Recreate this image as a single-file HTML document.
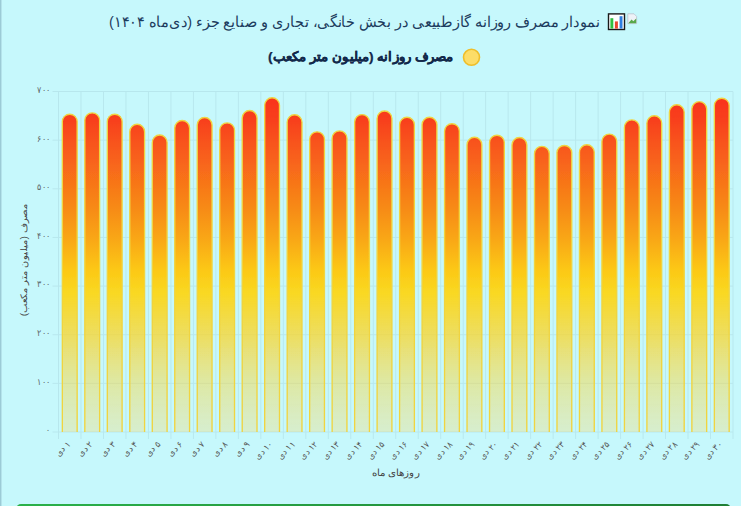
<!DOCTYPE html>
<html lang="fa">
<head>
<meta charset="utf-8">
<title>نمودار مصرف روزانه گازطبیعی</title>
<style>
html,body{margin:0;padding:0;background:#c6f8fc;}
html{overflow:hidden;}
body{width:741px;height:506px;overflow:hidden;background:#c6f8fc;position:relative;font-family:"Liberation Sans",sans-serif;}
.edge{position:absolute;left:0;top:0;width:2px;height:506px;background:linear-gradient(90deg,#9ccbd6 0,#9ccbd6 1px,#b4e3eb 1px,#b4e3eb 2px);}
svg{position:absolute;left:0;top:0;overflow:hidden;}
svg text{font-family:"Liberation Sans",sans-serif;}
</style>
</head>
<body>
<div class="edge"></div>
<svg width="741" height="506" viewBox="0 0 741 506">
<defs>
<linearGradient id="g" gradientUnits="userSpaceOnUse" x1="0" y1="91.5" x2="0" y2="432">
<stop offset="0" stop-color="#f92f1a"/>
<stop offset="0.084" stop-color="#f8401a"/>
<stop offset="0.172" stop-color="#f85a1c"/>
<stop offset="0.348" stop-color="#f78c16"/>
<stop offset="0.436" stop-color="#f9a816"/>
<stop offset="0.524" stop-color="#fcc815"/>
<stop offset="0.59" stop-color="#f9d822"/>
<stop offset="0.733" stop-color="#fbd42b" stop-opacity=".7"/>
<stop offset="0.853" stop-color="#fad63a" stop-opacity=".46"/>
<stop offset="0.97" stop-color="#fcd75a" stop-opacity=".33"/>
<stop offset="1" stop-color="#fcd760" stop-opacity=".3"/>
</linearGradient>
<linearGradient id="gr" x1="0" y1="0" x2="1" y2="0"><stop offset="0" stop-color="#2bb14a"/><stop offset="1" stop-color="#1e7e34"/></linearGradient>
<filter id="soft" x="-2%" y="-2%" width="104%" height="104%"><feGaussianBlur stdDeviation="0.5"/></filter>
</defs>
<!-- title -->
<g id="brokenimg"><path d="M627.8 13.8H634L636.6 16.4V23.6H627.8Z" fill="#eef2f7" stroke="#b4bcc9" stroke-width=".7"/><path d="M628.3 23.2L631.6 19.6 633.3 21.2 636.2 18.4V23.2Z" fill="#58a84a"/></g>
<g id="charticon"><rect x="608.5" y="13.9" width="16" height="15.6" fill="#fff" stroke="#1a1a1a" stroke-width="1.4"/><rect x="610.4" y="18.2" width="2.9" height="10.4" fill="#30c040"/><rect x="614.9" y="21.4" width="3" height="7.2" fill="#e8452f"/><rect x="619.6" y="16.2" width="2.9" height="12.4" fill="#2f7ee0"/></g>
<text x="600" y="27.3" direction="rtl" text-anchor="start" font-size="15" fill="#1d3c5e" textLength="491" lengthAdjust="spacingAndGlyphs">نمودار مصرف روزانه گازطبیعی در بخش خانگی، تجاری و صنایع جزء (دی‌ماه ۱۴۰۴)</text>
<!-- legend -->
<circle cx="471.5" cy="57.3" r="8" fill="#fcdd68" stroke="#efbe2a" stroke-width="1.6"/>
<text x="453.5" y="61" direction="rtl" text-anchor="start" font-size="13.4" font-weight="bold" fill="#12284a" stroke="#12284a" stroke-width=".25" textLength="185.5" lengthAdjust="spacingAndGlyphs">مصرف روزانه (میلیون متر مکعب)</text>
<!-- grid -->
<g stroke="#a3d0d8" stroke-width="1" fill="none" opacity=".4">
<path d="M58.50 91.5V439.0"/>
<path d="M80.98 91.5V439.0"/>
<path d="M103.47 91.5V439.0"/>
<path d="M125.95 91.5V439.0"/>
<path d="M148.43 91.5V439.0"/>
<path d="M170.92 91.5V439.0"/>
<path d="M193.40 91.5V439.0"/>
<path d="M215.88 91.5V439.0"/>
<path d="M238.37 91.5V439.0"/>
<path d="M260.85 91.5V439.0"/>
<path d="M283.33 91.5V439.0"/>
<path d="M305.82 91.5V439.0"/>
<path d="M328.30 91.5V439.0"/>
<path d="M350.78 91.5V439.0"/>
<path d="M373.27 91.5V439.0"/>
<path d="M395.75 91.5V439.0"/>
<path d="M418.23 91.5V439.0"/>
<path d="M440.72 91.5V439.0"/>
<path d="M463.20 91.5V439.0"/>
<path d="M485.68 91.5V439.0"/>
<path d="M508.17 91.5V439.0"/>
<path d="M530.65 91.5V439.0"/>
<path d="M553.13 91.5V439.0"/>
<path d="M575.62 91.5V439.0"/>
<path d="M598.10 91.5V439.0"/>
<path d="M620.58 91.5V439.0"/>
<path d="M643.07 91.5V439.0"/>
<path d="M665.55 91.5V439.0"/>
<path d="M688.03 91.5V439.0"/>
<path d="M710.52 91.5V439.0"/>
<path d="M733.00 91.5V439.0"/>
<path d="M52.5 432.00H733.0"/>
<path d="M52.5 383.36H733.0"/>
<path d="M52.5 334.71H733.0"/>
<path d="M52.5 286.07H733.0"/>
<path d="M52.5 237.43H733.0"/>
<path d="M52.5 188.79H733.0"/>
<path d="M52.5 140.14H733.0"/>
<path d="M52.5 91.50H733.0"/>
</g>
<!-- bars -->
<g fill="url(#g)" stroke="#f0d440" stroke-width="1.35" filter="url(#soft)">
<path d="M62.34 432.0V121.60A7.40 7.40 0 0 1 77.14 121.60V432.0"/>
<path d="M84.82 432.0V120.30A7.40 7.40 0 0 1 99.62 120.30V432.0"/>
<path d="M107.31 432.0V121.60A7.40 7.40 0 0 1 122.11 121.60V432.0"/>
<path d="M129.79 432.0V131.70A7.40 7.40 0 0 1 144.59 131.70V432.0"/>
<path d="M152.28 432.0V142.40A7.40 7.40 0 0 1 167.08 142.40V432.0"/>
<path d="M174.76 432.0V127.90A7.40 7.40 0 0 1 189.56 127.90V432.0"/>
<path d="M197.24 432.0V124.90A7.40 7.40 0 0 1 212.04 124.90V432.0"/>
<path d="M219.72 432.0V130.30A7.40 7.40 0 0 1 234.53 130.30V432.0"/>
<path d="M242.21 432.0V117.90A7.40 7.40 0 0 1 257.01 117.90V432.0"/>
<path d="M264.69 432.0V105.20A7.40 7.40 0 0 1 279.49 105.20V432.0"/>
<path d="M287.18 432.0V122.20A7.40 7.40 0 0 1 301.98 122.20V432.0"/>
<path d="M309.66 432.0V139.20A7.40 7.40 0 0 1 324.46 139.20V432.0"/>
<path d="M332.14 432.0V138.30A7.40 7.40 0 0 1 346.94 138.30V432.0"/>
<path d="M354.63 432.0V122.00A7.40 7.40 0 0 1 369.43 122.00V432.0"/>
<path d="M377.11 432.0V118.40A7.40 7.40 0 0 1 391.91 118.40V432.0"/>
<path d="M399.59 432.0V124.70A7.40 7.40 0 0 1 414.39 124.70V432.0"/>
<path d="M422.08 432.0V124.70A7.40 7.40 0 0 1 436.88 124.70V432.0"/>
<path d="M444.56 432.0V131.10A7.40 7.40 0 0 1 459.36 131.10V432.0"/>
<path d="M467.04 432.0V144.70A7.40 7.40 0 0 1 481.84 144.70V432.0"/>
<path d="M489.53 432.0V142.40A7.40 7.40 0 0 1 504.32 142.40V432.0"/>
<path d="M512.01 432.0V144.90A7.40 7.40 0 0 1 526.81 144.90V432.0"/>
<path d="M534.49 432.0V153.80A7.40 7.40 0 0 1 549.29 153.80V432.0"/>
<path d="M556.98 432.0V152.60A7.40 7.40 0 0 1 571.77 152.60V432.0"/>
<path d="M579.46 432.0V152.20A7.40 7.40 0 0 1 594.26 152.20V432.0"/>
<path d="M601.94 432.0V141.50A7.40 7.40 0 0 1 616.74 141.50V432.0"/>
<path d="M624.43 432.0V127.30A7.40 7.40 0 0 1 639.23 127.30V432.0"/>
<path d="M646.91 432.0V123.20A7.40 7.40 0 0 1 661.71 123.20V432.0"/>
<path d="M669.39 432.0V112.20A7.40 7.40 0 0 1 684.19 112.20V432.0"/>
<path d="M691.88 432.0V108.80A7.40 7.40 0 0 1 706.67 108.80V432.0"/>
<path d="M714.36 432.0V105.60A7.40 7.40 0 0 1 729.16 105.60V432.0"/>
</g>
<!-- y tick labels -->
<g font-size="8.6" fill="#5c6668" text-anchor="end">
<text x="50.3" y="433.40" textLength="4.2" lengthAdjust="spacingAndGlyphs">۰</text>
<text x="50.5" y="384.76" textLength="13.2" lengthAdjust="spacingAndGlyphs">۱۰۰</text>
<text x="50.5" y="336.11" textLength="13.2" lengthAdjust="spacingAndGlyphs">۲۰۰</text>
<text x="50.5" y="287.47" textLength="13.2" lengthAdjust="spacingAndGlyphs">۳۰۰</text>
<text x="50.5" y="238.83" textLength="13.2" lengthAdjust="spacingAndGlyphs">۴۰۰</text>
<text x="50.5" y="190.19" textLength="13.2" lengthAdjust="spacingAndGlyphs">۵۰۰</text>
<text x="50.5" y="141.54" textLength="13.2" lengthAdjust="spacingAndGlyphs">۶۰۰</text>
<text x="50.5" y="92.90" textLength="13.2" lengthAdjust="spacingAndGlyphs">۷۰۰</text>
</g>
<!-- x tick labels -->
<g font-size="8.6" fill="#555" direction="rtl" text-anchor="start">
<text transform="translate(70.94 444.4) rotate(-45)" textLength="17.5" lengthAdjust="spacingAndGlyphs">۱ دی</text>
<text transform="translate(93.42 444.4) rotate(-45)" textLength="17.5" lengthAdjust="spacingAndGlyphs">۲ دی</text>
<text transform="translate(115.91 444.4) rotate(-45)" textLength="17.5" lengthAdjust="spacingAndGlyphs">۳ دی</text>
<text transform="translate(138.39 444.4) rotate(-45)" textLength="17.5" lengthAdjust="spacingAndGlyphs">۴ دی</text>
<text transform="translate(160.88 444.4) rotate(-45)" textLength="17.5" lengthAdjust="spacingAndGlyphs">۵ دی</text>
<text transform="translate(183.36 444.4) rotate(-45)" textLength="17.5" lengthAdjust="spacingAndGlyphs">۶ دی</text>
<text transform="translate(205.84 444.4) rotate(-45)" textLength="17.5" lengthAdjust="spacingAndGlyphs">۷ دی</text>
<text transform="translate(228.32 444.4) rotate(-45)" textLength="17.5" lengthAdjust="spacingAndGlyphs">۸ دی</text>
<text transform="translate(250.81 444.4) rotate(-45)" textLength="17.5" lengthAdjust="spacingAndGlyphs">۹ دی</text>
<text transform="translate(273.29 444.4) rotate(-45)" textLength="21.5" lengthAdjust="spacingAndGlyphs">۱۰ دی</text>
<text transform="translate(295.78 444.4) rotate(-45)" textLength="21.5" lengthAdjust="spacingAndGlyphs">۱۱ دی</text>
<text transform="translate(318.26 444.4) rotate(-45)" textLength="21.5" lengthAdjust="spacingAndGlyphs">۱۲ دی</text>
<text transform="translate(340.74 444.4) rotate(-45)" textLength="21.5" lengthAdjust="spacingAndGlyphs">۱۳ دی</text>
<text transform="translate(363.23 444.4) rotate(-45)" textLength="21.5" lengthAdjust="spacingAndGlyphs">۱۴ دی</text>
<text transform="translate(385.71 444.4) rotate(-45)" textLength="21.5" lengthAdjust="spacingAndGlyphs">۱۵ دی</text>
<text transform="translate(408.19 444.4) rotate(-45)" textLength="21.5" lengthAdjust="spacingAndGlyphs">۱۶ دی</text>
<text transform="translate(430.68 444.4) rotate(-45)" textLength="21.5" lengthAdjust="spacingAndGlyphs">۱۷ دی</text>
<text transform="translate(453.16 444.4) rotate(-45)" textLength="21.5" lengthAdjust="spacingAndGlyphs">۱۸ دی</text>
<text transform="translate(475.64 444.4) rotate(-45)" textLength="21.5" lengthAdjust="spacingAndGlyphs">۱۹ دی</text>
<text transform="translate(498.12 444.4) rotate(-45)" textLength="21.5" lengthAdjust="spacingAndGlyphs">۲۰ دی</text>
<text transform="translate(520.61 444.4) rotate(-45)" textLength="21.5" lengthAdjust="spacingAndGlyphs">۲۱ دی</text>
<text transform="translate(543.09 444.4) rotate(-45)" textLength="21.5" lengthAdjust="spacingAndGlyphs">۲۲ دی</text>
<text transform="translate(565.58 444.4) rotate(-45)" textLength="21.5" lengthAdjust="spacingAndGlyphs">۲۳ دی</text>
<text transform="translate(588.06 444.4) rotate(-45)" textLength="21.5" lengthAdjust="spacingAndGlyphs">۲۴ دی</text>
<text transform="translate(610.54 444.4) rotate(-45)" textLength="21.5" lengthAdjust="spacingAndGlyphs">۲۵ دی</text>
<text transform="translate(633.03 444.4) rotate(-45)" textLength="21.5" lengthAdjust="spacingAndGlyphs">۲۶ دی</text>
<text transform="translate(655.51 444.4) rotate(-45)" textLength="21.5" lengthAdjust="spacingAndGlyphs">۲۷ دی</text>
<text transform="translate(677.99 444.4) rotate(-45)" textLength="21.5" lengthAdjust="spacingAndGlyphs">۲۸ دی</text>
<text transform="translate(700.48 444.4) rotate(-45)" textLength="21.5" lengthAdjust="spacingAndGlyphs">۲۹ دی</text>
<text transform="translate(722.96 444.4) rotate(-45)" textLength="21.5" lengthAdjust="spacingAndGlyphs">۳۰ دی</text>
</g>
<text transform="translate(26.6 260) rotate(-90)" font-size="9.4" fill="#444" text-anchor="middle" direction="rtl" textLength="112.5" lengthAdjust="spacingAndGlyphs">مصرف (میلیون متر مکعب)</text>
<text x="395.7" y="476" font-size="9.5" fill="#444" text-anchor="middle" direction="rtl" textLength="48" lengthAdjust="spacingAndGlyphs">روزهای ماه</text>
<rect x="16" y="504" width="715" height="14" rx="5" ry="5" fill="url(#gr)"/>
</svg>
</body>
</html>
